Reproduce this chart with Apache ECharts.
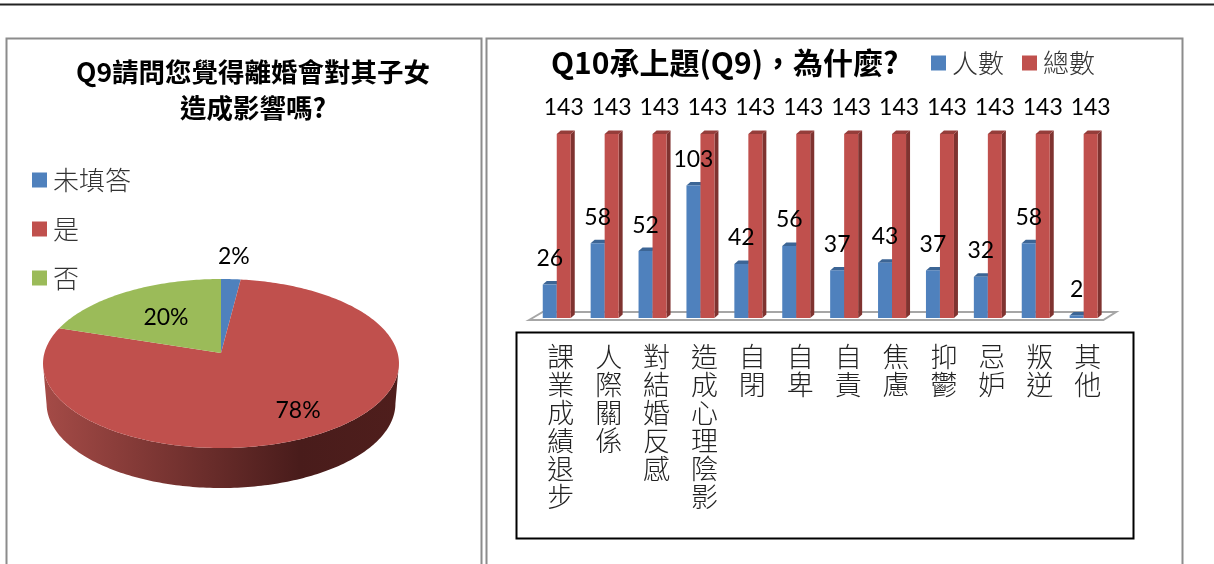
<!DOCTYPE html>
<html>
<head>
<meta charset="utf-8">
<title>Q9 Q10</title>
<script src="https://cdn.jsdelivr.net/npm/echarts@6/dist/echarts.min.js"></script>
<style>
    html, body { margin: 0; padding: 0; background: #fff; }
    #main { width: 1214px; height: 564px; }
</style>
</head>
<body>
<div id="main"></div>
<script>
    // Q9
    var pieNames = ['未填答', '是', '否'];
    var pieValues = [2, 78, 20];
    var pieColors = ['#4f81bd', '#c0504d', '#9bbb59'];

    // Q10
    var categories = ['課業成績退步', '人際關係', '對結婚反感', '造成心理陰影', '自閉', '自卑', '自責', '焦慮', '抑鬱', '忌妒', '叛逆', '其他'];
    var peopleValues = [26, 58, 52, 103, 42, 56, 37, 43, 37, 32, 58, 2];
    var totalValues = [143, 143, 143, 143, 143, 143, 143, 143, 143, 143, 143, 143];

    var cjkFont = '"Noto Sans CJK TC", "Noto Sans CJK SC", sans-serif';
    var numFont = 'Lato, "Noto Sans", sans-serif';

    var chart = echarts.init(document.getElementById('main'));

    // 餅圖的透視參數
    var pie = { cx: 221, cy: 353, rx: 176.6, ry: 83.2, p: 0.1243, depth: 40, floorScale: 0.98 };
    var pieLabelRadius = [1.36, 0.75, 0.56];

    function rimPoint(deg, f) {
        var a = deg * Math.PI / 180;
        var w = 1 + pie.p * f * Math.cos(a);
        return [pie.cx + pie.rx * f * Math.sin(a) / w, pie.cy - pie.ry * f * Math.cos(a) / w];
    }

    function startAngle(index) {
        var sum = 0, total = 0;
        pieValues.forEach(function (v, i) {
            total += v;
            if (i < index) {
                sum += v;
            }
        });
        return sum / total * 360;
    }

    function pieSlice(index) {
        return function (params, api) {
            var total = pieValues.reduce(function (a, b) { return a + b; }, 0);
            var from = startAngle(index);
            var to = from + api.value(0) / total * 360;
            var children = [];

            // 側面，只畫看得到的部分
            var sideFrom = Math.max(from, 97.2);
            var sideTo = Math.min(to, 262.8);
            if (sideTo > sideFrom) {
                var upper = [], lower = [];
                for (var d = sideFrom; d <= sideTo; d += 1) {
                    var q = rimPoint(d, 1);
                    upper.push(q);
                    lower.unshift([pie.cx + (q[0] - pie.cx) * pie.floorScale, q[1] + pie.depth]);
                }
                children.push({
                    type: 'polygon',
                    shape: { points: upper.concat(lower) },
                    style: {
                        fill: new echarts.graphic.LinearGradient(1, 0, 0, 0, [
                            { offset: 0, color: '#4f1e1c' },
                            { offset: 0.28, color: '#491c1b' },
                            { offset: 1, color: '#a54b47' }
                        ])
                    }
                });
            }

            var points = [[pie.cx, pie.cy]];
            for (var t = from; t < to; t += 1) {
                points.push(rimPoint(t, 1));
            }
            points.push(rimPoint(to, 1));
            children.push({
                type: 'polygon',
                shape: { points: points },
                style: { fill: pieColors[index] }
            });

            var labelPos = rimPoint((from + to) / 2, pieLabelRadius[index]);
            children.push({
                type: 'text',
                z2: 100,
                style: {
                    x: labelPos[0],
                    y: labelPos[1],
                    text: api.value(0) + '%',
                    fill: '#000',
                    font: '23px ' + numFont,
                    align: 'center',
                    verticalAlign: 'middle'
                }
            });
            return { type: 'group', children: children };
        };
    }

    function bar3d(offset, front, cap, side) {
        return function (params, api) {
            var base = api.coord([api.value(0), 0]);
            var top = api.coord([api.value(0), api.value(1)]);
            var w = 14, dx = 4, dy = 3.5;
            var x0 = base[0] + offset, x1 = x0 + w;
            return {
                type: 'group',
                children: [
                    {
                        type: 'polygon',
                        shape: { points: [[x1, base[1]], [x1 + dx, base[1] - dy], [x1 + dx, top[1] - dy], [x1, top[1]]] },
                        style: { fill: side }
                    },
                    {
                        type: 'polygon',
                        shape: { points: [[x0, top[1]], [x0 + dx, top[1] - dy], [x1 + dx, top[1] - dy], [x1, top[1]]] },
                        style: { fill: cap }
                    },
                    {
                        type: 'rect',
                        shape: { x: x0, y: top[1], width: w, height: base[1] - top[1] },
                        style: { fill: front }
                    },
                    {
                        type: 'text',
                        z2: 100,
                        style: {
                            x: x0 + w / 2,
                            y: top[1] - 26,
                            text: String(api.value(1)),
                            fill: '#000',
                            font: '23px ' + numFont,
                            align: 'center',
                            verticalAlign: 'middle'
                        }
                    }
                ]
            };
        };
    }

    function renderFloor(params, api) {
        var first = api.coord([0, 0]);
        var last = api.coord([categories.length - 1, 0]);
        return {
            type: 'polygon',
            shape: {
                points: [
                    [first[0] - 27.7, first[1] + 2],
                    [first[0] - 14, first[1] - 6],
                    [last[0] + 32.4, first[1] - 6],
                    [last[0] + 19.7, first[1] + 2]
                ]
            },
            style: { fill: '#fff', stroke: '#a6a6a6', lineWidth: 2 }
        };
    }

    function toPairs(values) {
        return values.map(function (v, i) { return [i, v]; });
    }

    var series = [];
    pieNames.forEach(function (name, i) {
        series.push({
            type: 'custom',
            name: name,
            coordinateSystem: 'none',
            silent: true,
            itemStyle: { color: pieColors[i] },
            data: [[pieValues[i]]],
            renderItem: pieSlice(i)
        });
    });
    series.push({
        type: 'custom',
        name: 'floor',
        silent: true,
        xAxisIndex: 0,
        yAxisIndex: 0,
        data: [[0, 0]],
        encode: { x: 0, y: 1 },
        clip: false,
        renderItem: renderFloor
    });
    series.push({
        type: 'custom',
        name: '人數',
        silent: true,
        itemStyle: { color: '#4f81bd' },
        data: toPairs(peopleValues),
        encode: { x: 0, y: 1 },
        clip: false,
        renderItem: bar3d(-14, '#4f81bd', '#3c6595', '#3c6595')
    });
    series.push({
        type: 'custom',
        name: '總數',
        silent: true,
        itemStyle: { color: '#c0504d' },
        data: toPairs(totalValues),
        encode: { x: 0, y: 1 },
        clip: false,
        renderItem: bar3d(0, '#c0504d', '#953d3a', '#7f3330')
    });

    var option = {
        animation: false,
        backgroundColor: '#fff',
        title: [
            {
                text: 'Q9請問您覺得離婚會對其子女\n造成影響嗎?',
                left: 253,
                top: 54,
                textAlign: 'center',
                padding: 0,
                textStyle: { fontFamily: cjkFont, fontSize: 26.5, fontWeight: 'bold', color: '#000', lineHeight: 36 }
            },
            {
                text: 'Q10承上題(Q9)，為什麼?',
                left: 551,
                top: 45,
                padding: 0,
                textStyle: { fontFamily: cjkFont, fontSize: 30, fontWeight: 'bold', color: '#000', lineHeight: 36 }
            }
        ],
        legend: [
            {
                orient: 'vertical',
                left: 32,
                top: 164,
                padding: 0,
                itemWidth: 15,
                itemHeight: 15,
                itemGap: 17,
                icon: 'rect',
                selectedMode: false,
                data: pieNames,
                textStyle: { fontFamily: cjkFont, fontSize: 26, fontWeight: 300, color: '#333', lineHeight: 32, padding: [0, 0, 0, 1] }
            },
            {
                orient: 'horizontal',
                left: 931,
                top: 47,
                padding: 0,
                itemWidth: 15,
                itemHeight: 15,
                itemGap: 18,
                icon: 'rect',
                selectedMode: false,
                data: ['人數', '總數'],
                textStyle: { fontFamily: cjkFont, fontSize: 26, fontWeight: 300, color: '#333', lineHeight: 32, padding: [0, 0, 0, 1] }
            }
        ],
        grid: { left: 532.8, top: 134, width: 574.8, height: 184 },
        xAxis: {
            type: 'category',
            data: categories,
            axisLine: { show: false },
            axisTick: { show: false },
            axisLabel: {
                interval: 0,
                margin: 25,
                fontFamily: cjkFont,
                fontSize: 27,
                fontWeight: 300,
                color: '#222',
                lineHeight: 28,
                padding: [0, 0, 0, 8],
                verticalAlign: 'top',
                formatter: function (value) {
                    return value.split('').join('\n');
                }
            }
        },
        yAxis: { type: 'value', min: 0, max: 143, show: false },
        graphic: [
            { type: 'line', silent: true, shape: { x1: 0, y1: 4.5, x2: 1214, y2: 4.5 }, style: { stroke: '#222', lineWidth: 2 } },
            { type: 'rect', silent: true, shape: { x: 6.5, y: 38.5, width: 475, height: 560 }, style: { fill: 'none', stroke: '#8c8c8c', lineWidth: 2 } },
            { type: 'rect', silent: true, shape: { x: 486.5, y: 38.5, width: 696, height: 560 }, style: { fill: 'none', stroke: '#8c8c8c', lineWidth: 2 } },
            { type: 'rect', silent: true, shape: { x: 516.5, y: 332.5, width: 617, height: 206 }, style: { fill: 'none', stroke: '#000', lineWidth: 2 } }
        ],
        series: series
    };

    chart.setOption(option);
</script>
</body>
</html>
